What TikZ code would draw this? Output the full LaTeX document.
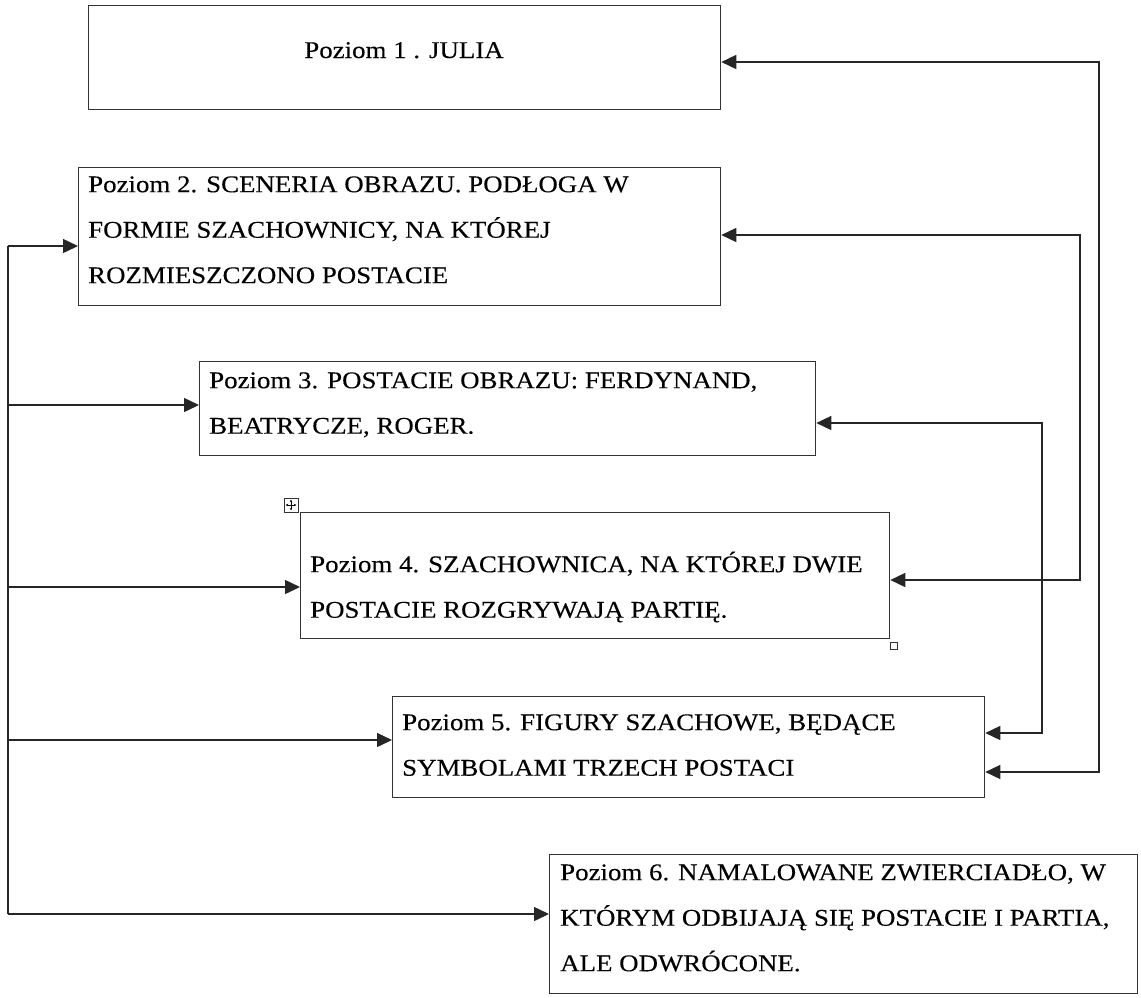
\documentclass[tikz,border=0pt]{standalone}
\usepackage{fontspec}
\setmainfont{Liberation Serif}
\newfontfamily\reffont[FakeStretch=1.12,FakeBold=0.25]{Liberation Serif}
\usetikzlibrary{arrows.meta}
\tikzset{
  box/.style={draw=black!80, line width=1.3pt, inner sep=0pt, anchor=north west},
  txtfont/.style={font=\reffont\fontsize{24}{45.5}\selectfont},
  txt/.style={txtfont, inner sep=0pt, anchor=north west, align=left, text=black},
  conn/.style={line width=1.5pt, draw=black!85},
  tip/.tip={Triangle[length=15pt,width=14pt]},
  arr/.style={conn, -tip},
  bi/.style={conn, tip-tip},
  mark box/.style={draw=black!80, line width=0.7pt, inner sep=0pt, fill=white}
}
\begin{document}
\begin{tikzpicture}[x=1pt,y=-1pt]
\useasboundingbox[fill=white] (0,0) rectangle (1141,997);

% boxes
\node[box, minimum width=632pt, minimum height=104pt] (b1) at (88,5) {};
\node[box, minimum width=642pt, minimum height=138pt] (b2) at (78,167) {};
\node[box, minimum width=616pt, minimum height=94pt] (b3) at (199,361) {};
\node[box, minimum width=589pt, minimum height=126pt] (b4) at (300,512) {};
\node[box, minimum width=592pt, minimum height=101pt] (b5) at (392,696) {};
\node[box, minimum width=588pt, minimum height=139pt] (b6) at (549,854) {};

% texts
\node[txtfont, inner sep=0pt, anchor=base, text=black] (t1) at (404,58) {Poziom 1 . JULIA};
\node[txt] (t2) at (88,168) {\rule{0pt}{24pt}Poziom 2. SCENERIA OBRAZU. PODŁOGA W\\FORMIE SZACHOWNICY, NA KTÓREJ\\ROZMIESZCZONO POSTACIE};
\node[txt] (t3) at (209,364) {\rule{0pt}{24pt}Poziom 3. POSTACIE OBRAZU: FERDYNAND,\\BEATRYCZE, ROGER.};
\node[txt] (t4) at (310,548) {\rule{0pt}{24pt}Poziom 4. SZACHOWNICA, NA KTÓREJ DWIE\\POSTACIE ROZGRYWAJĄ PARTIĘ.};
\node[txt] (t5) at (402,706) {\rule{0pt}{24pt}Poziom 5. FIGURY SZACHOWE, BĘDĄCE\\SYMBOLAMI TRZECH POSTACI};
\node[txt] (t6) at (560,856) {\rule{0pt}{24pt}Poziom 6. NAMALOWANE ZWIERCIADŁO, W\\KTÓRYM ODBIJAJĄ SIĘ POSTACIE I PARTIA,\\ALE ODWRÓCONE.};

% table handles
\node[mark box, minimum size=14pt] (ic) at (291,505) {};
\draw[line width=0.5pt, {Stealth[length=2.5pt,width=2.5pt]}-{Stealth[length=2.5pt,width=2.5pt]}] ([xshift=2pt]ic.west) -- ([xshift=-2pt]ic.east);
\draw[line width=0.5pt, {Stealth[length=2.5pt,width=2.5pt]}-{Stealth[length=2.5pt,width=2.5pt]}] ([yshift=-2pt]ic.north) -- ([yshift=2pt]ic.south);
\node[mark box, minimum size=7pt] (sq) at (894,646) {};

% left trunk
\coordinate (L2) at (8,246);
\coordinate (L3) at (8,405);
\coordinate (L4) at (8,587);
\coordinate (L5) at (8,740);
\coordinate (L6) at (8,914);
\draw[conn] (L2) -- (L6);
\draw[arr] (L2) -- (L2 -| b2.west);
\draw[arr] (L3) -- (L3 -| b3.west);
\draw[arr] (L4) -- (L4 -| b4.west);
\draw[arr] (L5) -- (L5 -| b5.west);
\draw[arr] (L6) -- (L6 -| b6.west);

% right connectors
\coordinate (R1a) at (1099,62);
\coordinate (R1b) at (1099,772);
\coordinate (R2a) at (1080,235);
\coordinate (R2b) at (1080,580);
\coordinate (R3a) at (1042,423);
\coordinate (R3b) at (1042,733);
\draw[bi] (R1a -| b1.east) -- (R1a) -- (R1b) -- (R1b -| b5.east);
\draw[bi] (R2a -| b2.east) -- (R2a) -- (R2b) -- (R2b -| b4.east);
\draw[bi] (R3a -| b3.east) -- (R3a) -- (R3b) -- (R3b -| b5.east);
\end{tikzpicture}
\end{document}
